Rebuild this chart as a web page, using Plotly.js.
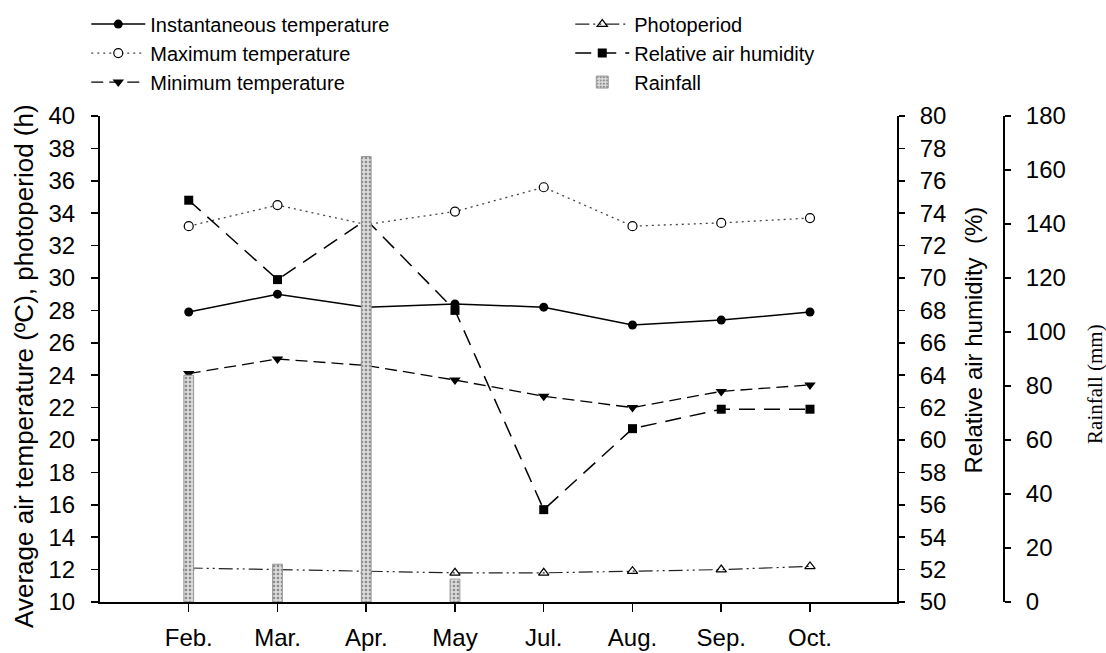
<!DOCTYPE html>
<html>
<head>
<meta charset="utf-8">
<script src="https://cdn.plot.ly/plotly-3.0.1.min.js"></script>
<style>html,body{margin:0;padding:0;background:#fff;}#chart{width:1106px;height:653px;}</style>
</head>
<body>
<div id="chart"></div>
<script>
var months = ["Feb.", "Mar.", "Apr.", "May", "Jul.", "Aug.", "Sep.", "Oct."];
var instTemp = [27.9, 29.0, 28.2, 28.4, 28.2, 27.1, 27.4, 27.9];
var maxTemp = [33.2, 34.5, 33.3, 34.1, 35.6, 33.2, 33.4, 33.7];
var minTemp = [24.1, 25.0, 24.6, 23.7, 22.7, 22.0, 23.0, 23.4];
var photoperiod = [12.1, 12.0, 11.9, 11.8, 11.8, 11.9, 12.0, 12.2];
var humidity = [74.8, 69.9, 73.6, 68.0, 55.7, 60.7, 61.9, 61.9];
var rainfall = [84, 14, 165, 8.5, 0, 0, 0, 0];

var FONT = "Liberation Sans, Arial, sans-serif";

var traces = [
  {name: "Instantaneous temperature", x: months, y: instTemp, type: "scatter", mode: "lines+markers",
   line: {color: "#000", width: 1.5}, marker: {symbol: "circle", size: 9, color: "#000"}, xaxis: "x", yaxis: "y"},
  {name: "Photoperiod", x: months, y: photoperiod, type: "scatter", mode: "lines+markers",
   line: {color: "#222", width: 1.2, dash: "14px,4px,2px,4px,2px,4px"},
   marker: {symbol: "triangle-up-open", size: 9, color: "#000", line: {width: 1.2}}, xaxis: "x", yaxis: "y"},
  {name: "Maximum temperature", x: months, y: maxTemp, type: "scatter", mode: "lines+markers",
   line: {color: "#444", width: 1.3, dash: "2px,4px"},
   marker: {symbol: "circle", size: 9, color: "#fff", line: {color: "#000", width: 1.2}}, xaxis: "x", yaxis: "y"},
  {name: "Relative air humidity", x: months, y: humidity, type: "scatter", mode: "lines+markers",
   line: {color: "#000", width: 1.5, dash: "16px,9px"},
   marker: {symbol: "square", size: 9, color: "#000"}, xaxis: "x", yaxis: "y2"},
  {name: "Minimum temperature", x: months, y: minTemp, type: "scatter", mode: "lines+markers",
   line: {color: "#000", width: 1.3, dash: "12px,6px"},
   marker: {symbol: "triangle-down", size: 10, color: "#000"}, xaxis: "x", yaxis: "y"},
  {name: "Rainfall", x: months, y: rainfall, type: "bar", width: 0.11,
   marker: {color: "#d9d9d9",
            line: {color: "#999", width: rainfall.map(function (v) { return v > 0 ? 1 : 0; })},
            pattern: {shape: ".", fgcolor: "#8a8a8a", bgcolor: "#dcdcdc", size: 4, solidity: 0.35}},
   xaxis: "x", yaxis: "y3"}
];

var tickFont = {family: FONT, size: 24, color: "#000"};

var layout = {
  width: 1106, height: 653,
  margin: {l: 0, r: 0, t: 0, b: 0},
  paper_bgcolor: "#fff", plot_bgcolor: "rgba(0,0,0,0)",
  showlegend: true,
  legend: {orientation: "h", x: 0.078, y: 0.993, xanchor: "left", yanchor: "top",
           entrywidth: 415, itemwidth: 54, traceorder: "normal",
           font: {family: FONT, size: 20, color: "#000"}, bgcolor: "rgba(0,0,0,0)", tracegroupgap: 0},
  bargap: 0,
  xaxis: {type: "category", domain: [0.0904, 0.811], range: [-1, 7.98], showgrid: false, zeroline: false,
          showline: true, linecolor: "#000", linewidth: 2, ticks: "outside", ticklen: 8, tickwidth: 1.5,
          tickcolor: "#000", tickfont: tickFont, ticklabelstandoff: 5, automargin: false, fixedrange: true},
  yaxis: {domain: [0.0781, 0.8224], range: [10, 40], dtick: 2, showgrid: false, zeroline: false,
          showline: true, linecolor: "#000", linewidth: 2, ticks: "outside", ticklen: 7, tickwidth: 1.5,
          tickcolor: "#000", tickfont: tickFont, ticklabelstandoff: 11, automargin: false},
  yaxis2: {overlaying: "y", side: "right", anchor: "x", range: [50, 80], dtick: 2, showgrid: false, zeroline: false,
           showline: true, linecolor: "#000", linewidth: 2, ticks: "outside", ticklen: 6, tickwidth: 1.5,
           tickcolor: "#000", tickfont: tickFont, ticklabelstandoff: 10, automargin: false},
  yaxis3: {overlaying: "y", side: "right", anchor: "free", position: 0.9078, range: [0, 180], dtick: 20,
           showgrid: false, zeroline: false, showline: true, linecolor: "#000", linewidth: 2,
           ticks: "outside", ticklen: 6, tickwidth: 1.5, tickcolor: "#000", tickfont: tickFont,
           ticklabelstandoff: 10, automargin: false},
  annotations: [
    {text: "Average air temperature (ºC), photoperiod (h)", xref: "paper", yref: "paper", x: 0.021, y: 0.44,
     xanchor: "center", yanchor: "middle",
     textangle: -90, showarrow: false, font: {family: FONT, size: 26, color: "#000"}},
    {text: "Relative air humidity  (%)", xref: "paper", yref: "paper", x: 0.88, y: 0.479,
     xanchor: "center", yanchor: "middle",
     textangle: -90, showarrow: false, font: {family: FONT, size: 24, color: "#000"}},
    {text: "Rainfall (mm)", xref: "paper", yref: "paper", x: 0.99, y: 0.412,
     xanchor: "center", yanchor: "middle",
     textangle: -90, showarrow: false, font: {family: "Liberation Serif, Times New Roman, serif", size: 21, color: "#000"}}
  ]
};

Plotly.newPlot("chart", traces, layout, {staticPlot: true, displayModeBar: false});
</script>
</body>
</html>
